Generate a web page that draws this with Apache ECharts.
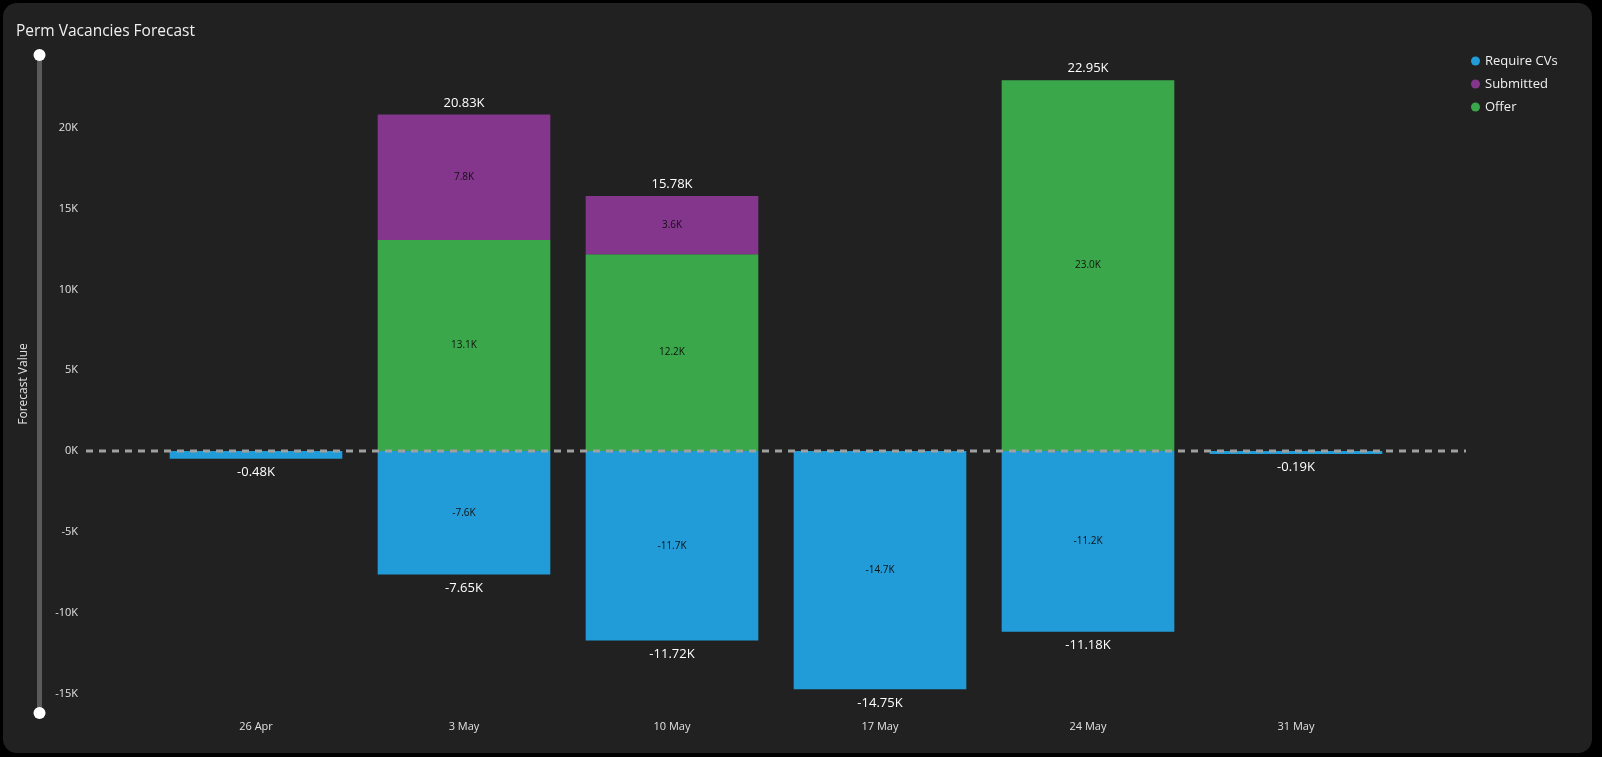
<!DOCTYPE html>
<html>
<head>
<meta charset="utf-8">
<title>Perm Vacancies Forecast</title>
<script src="https://cdn.jsdelivr.net/npm/echarts@6/dist/echarts.min.js"></script>
<style>
  html, body { margin: 0; padding: 0; background: #000; }
  #panel { position: absolute; left: 3px; top: 3px; width: 1589px; height: 750px; background: #212121; border-radius: 14px; }
  #chart { position: absolute; left: 0; top: 0; width: 1602px; height: 757px; }
</style>
</head>
<body>
<div id="panel"></div>
<div id="chart"></div>
<script>
// categories (week starting)
var weeks = ["26 Apr", "3 May", "10 May", "17 May", "24 May", "31 May"];
// series values
var requireCVs = [-480, -7648, -11720, -14748, -11180, -190];
var submitted = [0, 7770, 3600, 0, 0, 0];
var offer = [0, 13060, 12180, 0, 22952, 0];
// y axis range (matches the range slider)
var yMin = -16275;
var yMax = 24570;
// dashed zero reference line
var zeroLine = [[0, 0], [1, 0]];

var FONT = "'Segoe UI', 'Open Sans', sans-serif";

// totals shown above / below each stack
var totalPos = weeks.map(function (w, i) {
  var s = submitted[i] + offer[i];
  return s > 0 ? s : null;
});
var totalNeg = requireCVs.slice();

function innerLabel(p) {
  if (p.value == null || Math.abs(p.value) < 2000) return "";
  return (p.value / 1000).toFixed(1) + "K";
}
function totalLabel(p) {
  if (p.value == null) return "";
  return (p.value / 1000).toFixed(2) + "K";
}

var chart = echarts.init(document.getElementById("chart"), null, { renderer: "canvas" });

chart.setOption({
  backgroundColor: "transparent",
  animation: false,
  textStyle: { fontFamily: FONT },
  title: {
    text: "Perm Vacancies Forecast",
    left: 10,
    top: 24,
    padding: [0, 6],
    textStyle: { color: "#f0f0f0", fontSize: 15.5, fontWeight: "normal", fontFamily: FONT }
  },
  legend: {
    data: ["Require CVs", "Submitted", "Offer"],
    orient: "vertical",
    left: 1471,
    top: 53,
    padding: 0,
    icon: "circle",
    itemWidth: 9,
    itemHeight: 9,
    itemGap: 7,
    textStyle: { color: "#f0f0f0", fontSize: 13, lineHeight: 16, fontFamily: FONT }
  },
  grid: [
    { left: 152, right: 202, top: 54, bottom: 43 },
    { left: 86, right: 136, top: 54, bottom: 43 }
  ],
  xAxis: [
    {
      type: "category",
      data: weeks,
      gridIndex: 0,
      axisLine: { show: false },
      axisTick: { show: false },
      axisLabel: { color: "#e0e0e0", fontSize: 11, margin: 7, fontFamily: FONT }
    },
    { type: "value", gridIndex: 1, min: 0, max: 1, show: false }
  ],
  yAxis: [
    {
      type: "value",
      gridIndex: 0,
      min: yMin,
      max: yMax,
      splitNumber: 8,
      offset: 66,
      name: "Forecast Value",
      nameLocation: "middle",
      nameGap: 56,
      nameTextStyle: { color: "#e0e0e0", fontSize: 12, fontFamily: FONT },
      axisLine: { show: false },
      axisTick: { show: false },
      splitLine: { show: false },
      axisLabel: {
        color: "#e0e0e0",
        fontSize: 11,
        margin: 8,
        showMinLabel: false,
        showMaxLabel: false,
        fontFamily: FONT,
        formatter: function (v) { return (v / 1000) + "K"; }
      }
    },
    { type: "value", gridIndex: 1, min: yMin, max: yMax, show: false }
  ],
  dataZoom: [
    {
      type: "slider",
      yAxisIndex: 0,
      filterMode: "none",
      start: 0,
      end: 100,
      left: 37,
      width: 5,
      top: 54,
      bottom: 43,
      backgroundColor: "#4a4a4a",
      fillerColor: "#5a5a5a",
      borderColor: "transparent",
      showDetail: false,
      showDataShadow: false,
      brushSelect: false,
      moveHandleSize: 0,
      handleIcon: "circle",
      handleSize: 12,
      handleStyle: { color: "#ffffff", borderColor: "#ffffff", borderWidth: 0 },
      dataBackground: { lineStyle: { opacity: 0 }, areaStyle: { opacity: 0 } },
      selectedDataBackground: { lineStyle: { opacity: 0 }, areaStyle: { opacity: 0 } },
      emphasis: { handleStyle: { color: "#ffffff", borderColor: "#ffffff" } }
    }
  ],
  series: [
    {
      name: "Require CVs",
      type: "bar",
      stack: "f",
      data: requireCVs,
      barWidth: "83%",
      barGap: "-100%",
      itemStyle: { color: "#219cd9" },
      label: { show: true, position: "inside", color: "#111", fontSize: 10, formatter: innerLabel }
    },
    {
      name: "Offer",
      type: "bar",
      stack: "f",
      data: offer,
      barWidth: "83%",
      barGap: "-100%",
      itemStyle: { color: "#3aa84a" },
      label: { show: true, position: "inside", color: "#111", fontSize: 10, formatter: innerLabel }
    },
    {
      name: "Submitted",
      type: "bar",
      stack: "f",
      data: submitted,
      barWidth: "83%",
      barGap: "-100%",
      itemStyle: { color: "#84368c" },
      label: { show: true, position: "inside", color: "#111", fontSize: 10, formatter: innerLabel }
    },
    {
      name: "TotalPos",
      type: "bar",
      data: totalPos,
      barWidth: "83%",
      barGap: "-100%",
      silent: true,
      z: 1,
      itemStyle: { color: "transparent" },
      label: { show: true, position: "top", distance: 5, color: "#ffffff", fontSize: 13, formatter: totalLabel }
    },
    {
      name: "TotalNeg",
      type: "bar",
      data: totalNeg,
      barWidth: "83%",
      barGap: "-100%",
      silent: true,
      z: 1,
      itemStyle: { color: "transparent" },
      label: { show: true, position: "bottom", distance: 7, color: "#ffffff", fontSize: 13, formatter: totalLabel }
    },
    {
      name: "zero",
      type: "line",
      xAxisIndex: 1,
      yAxisIndex: 1,
      data: zeroLine,
      showSymbol: false,
      silent: true,
      z: 5,
      lineStyle: { color: "#a0a0a0", width: 3, type: [7, 6] }
    }
  ]
});
</script>
</body>
</html>
